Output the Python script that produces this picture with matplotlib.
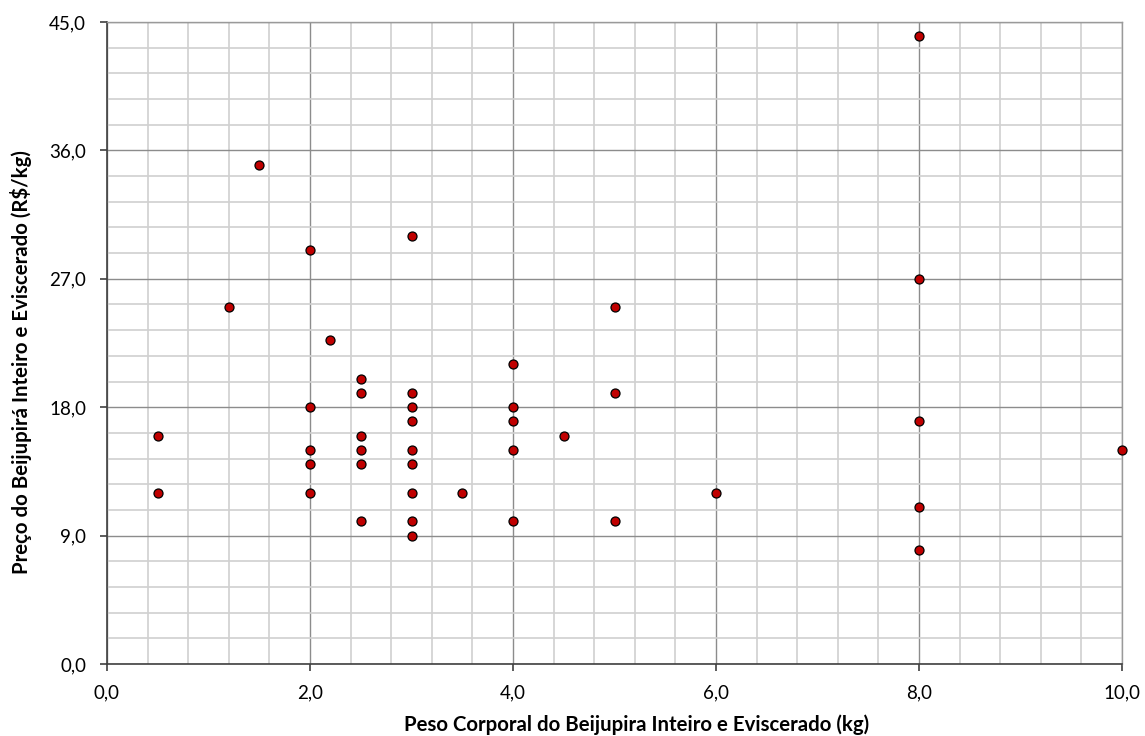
import matplotlib
matplotlib.use("Agg")
import matplotlib.pyplot as plt
from matplotlib.ticker import MultipleLocator, FuncFormatter

# Body weight (kg) and price (R$/kg) of whole gutted cobia
peso = [0.5, 0.5, 1.2, 1.5,
        2.0, 2.0, 2.0, 2.0, 2.0, 2.2,
        2.5, 2.5, 2.5, 2.5, 2.5, 2.5,
        3.0, 3.0, 3.0, 3.0, 3.0, 3.0, 3.0, 3.0, 3.0,
        3.5, 4.0, 4.0, 4.0, 4.0, 4.0, 4.5,
        5.0, 5.0, 5.0, 6.0,
        8.0, 8.0, 8.0, 8.0, 8.0, 10.0]
preco = [16, 12, 25, 35,
         29, 18, 15, 14, 12, 22.7,
         20, 19, 16, 15, 14, 10,
         30, 19, 18, 17, 15, 14, 12, 10, 9,
         12, 21, 18, 17, 15, 10, 16,
         25, 19, 10, 12,
         44, 27, 17, 11, 8, 15]

plt.rcParams['font.family'] = ['Lato', 'DejaVu Sans']

fig = plt.figure(figsize=(11.45, 7.36), dpi=100)
ax = fig.add_axes([107/1145, 72/736, 1015/1145, 642/736])

ax.set_xlim(0, 10)
ax.set_ylim(0, 45)
ax.xaxis.set_major_locator(MultipleLocator(2))
ax.xaxis.set_minor_locator(MultipleLocator(0.4))
ax.yaxis.set_major_locator(MultipleLocator(9))
ax.yaxis.set_minor_locator(MultipleLocator(1.8))
fmt = FuncFormatter(lambda v, p: f"{v:.1f}".replace(".", ","))
ax.xaxis.set_major_formatter(fmt)
ax.yaxis.set_major_formatter(fmt)

ax.grid(which='minor', color='#d0d0d0', linewidth=1.2)
ax.grid(which='major', color='#8c8c8c', linewidth=1.0)
ax.set_axisbelow(True)

ax.tick_params(which='major', direction='out', length=5, width=1.2,
               color='#404040', labelsize=13.5, pad=10, labelcolor='black')
ax.tick_params(which='minor', length=0)

for side in ('left', 'bottom'):
    ax.spines[side].set_color('#404040')
    ax.spines[side].set_linewidth(1.2)
for side in ('top', 'right'):
    ax.spines[side].set_color('#9a9a9a')
    ax.spines[side].set_linewidth(1.0)

ax.scatter(peso, preco, s=42, c='#c00000', edgecolors='black',
           linewidths=0.9, zorder=3, clip_on=False)

ax.set_xlabel("Peso Corporal do Beijupira Inteiro e Eviscerado (kg)",
              fontsize=14.7, fontweight='bold', labelpad=9)
ax.set_ylabel("Preço do Beijupirá Inteiro e Eviscerado (R$/kg)",
              fontsize=14.7, fontweight='bold', labelpad=12)
ax.xaxis.label.set_x(0.522)
ax.yaxis.label.set_y(0.47)

fig.savefig("out.png", dpi=100)
